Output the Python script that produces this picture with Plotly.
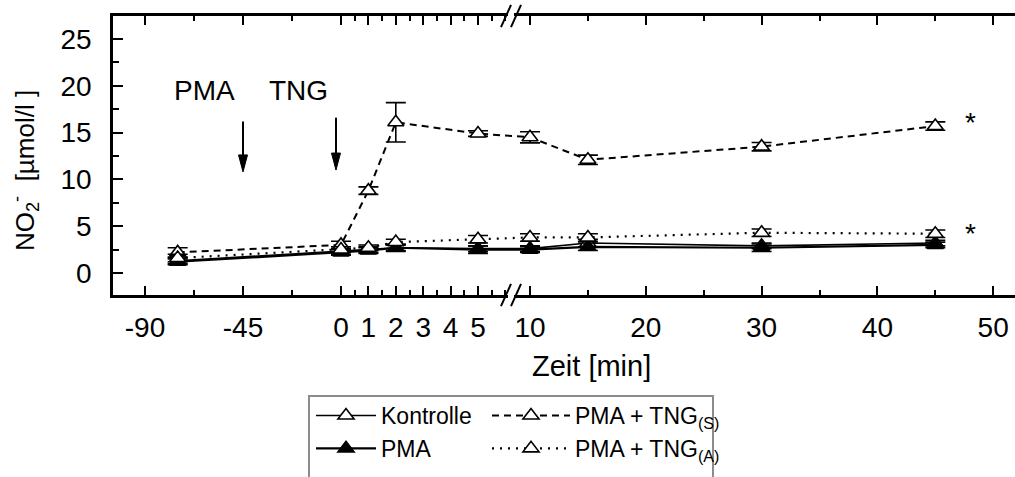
import plotly.graph_objects as go

# ---------------- data ----------------
times = [-75, 0, 1, 2, 5, 10, 15, 30, 45]

kontrolle = [1.3, 2.3, 2.5, 2.7, 2.6, 2.6, 3.2, 2.9, 3.2]
kontrolle_err = [0.3, 0.3, 0.3, 0.3, 0.3, 0.3, 0.4, 0.3, 0.3]

pma = [1.2, 2.2, 2.4, 2.7, 2.5, 2.5, 2.8, 2.7, 3.0]
pma_err = [0.3, 0.3, 0.3, 0.4, 0.4, 0.3, 0.4, 0.4, 0.3]

tng_s = [2.2, 3.0, 8.8, 16.1, 14.9, 14.5, 12.1, 13.5, 15.7]
tng_s_err = [0.5, 0.4, 0.4, 2.1, 0.3, 0.6, 0.5, 0.45, 0.45]

tng_a = [1.6, 2.5, 2.7, 3.3, 3.6, 3.8, 3.8, 4.3, 4.2]
tng_a_err = [0.4, 0.3, 0.3, 0.3, 0.4, 0.4, 0.4, 0.4, 0.4]

x_tick_times = [-90, -45, 0, 1, 2, 3, 4, 5, 10, 20, 30, 40, 50]
x_tick_labels = ["-90", "-45", "0", "1", "2", "3", "4", "5", "10", "20", "30", "40", "50"]
x_minor_times = [-67.5, -22.5, 0.5, 1.5, 2.5, 3.5, 4.5, 5.5, 6, 15, 25, 35, 45]
y_tick_vals = [0, 5, 10, 15, 20, 25]


# broken time scale: three linear segments
def to_axis(t):
    if t <= 0:
        return 341 + t * 196 / 90
    if t <= 7:
        return 341 + t * 27.4
    return 530 + (t - 10) * 11.58


FONT = "Arial, Liberation Sans, sans-serif"
PL, PR, PT, PB = 113, 1015, 16, 295
W, H = 1015, 477
Y0, Y1 = -2.35, 27.46


def px_x(p):
    return (p - PL) / (PR - PL)


def px_y(p):
    return (PB - p) / (PB - PT)


xs = [to_axis(t) for t in times]

fig = go.Figure()


def add_series(name, y, err, dash, width, filled, legend, rank):
    fig.add_trace(go.Scatter(
        x=xs, y=y, name=name, mode="lines+markers",
        line=dict(color="black", width=width, dash=dash),
        marker=dict(symbol="triangle-up", size=14,
                    color="black" if filled else "white",
                    line=dict(color="black", width=1.6)),
        error_y=dict(type="data", array=err, visible=True, color="black",
                     thickness=1.6, width=10),
        legend=legend, legendrank=rank,
    ))


add_series("Kontrolle", kontrolle, kontrolle_err, "solid", 1.6, False, "legend", 1)
add_series("PMA", pma, pma_err, "solid", 2.2, True, "legend", 2)
add_series("PMA + TNG<sub>(S)</sub>", tng_s, tng_s_err, "7px,5px", 2, False, "legend2", 1)
add_series("PMA + TNG<sub>(A)</sub>", tng_a, tng_a_err, "2px,6px", 2.2, False, "legend2", 2)

shapes = []


def arrow(xu, y_tail, y_tip):
    head_len = 17 / ((PB - PT) / (Y1 - Y0))
    shapes.append(dict(type="line", xref="x", yref="y", x0=xu, x1=xu,
                       y0=y_tail, y1=y_tip + head_len * 0.8,
                       line=dict(color="black", width=2)))
    shapes.append(dict(type="path", xref="x", yref="y",
                       path=f"M {xu-4.5},{y_tip+head_len} L {xu+4.5},{y_tip+head_len} L {xu},{y_tip} Z",
                       fillcolor="black", line=dict(color="black", width=1)))


arrow(to_axis(-45), 16.2, 10.8)
arrow(to_axis(-2.3), 16.6, 11.0)

# axis break marks "//" on top and bottom frame lines
brk = 511
for yc in (0, 1):
    shapes.append(dict(type="rect", xref="x", yref="paper", x0=brk - 3, x1=brk + 3,
                       y0=yc - 0.012, y1=yc + 0.012, fillcolor="white",
                       line=dict(width=0), layer="above"))
    for dx in (-5, 5):
        shapes.append(dict(type="line", xref="x", yref="paper",
                           x0=brk + dx - 5, x1=brk + dx + 5,
                           y0=yc - 0.04, y1=yc + 0.04,
                           line=dict(color="black", width=2), layer="above"))

# legend frame
shapes.append(dict(type="rect", xref="paper", yref="paper",
                   x0=px_x(309), x1=px_x(713), y0=px_y(482), y1=px_y(396),
                   line=dict(color="#8c8c8c", width=2), fillcolor="rgba(0,0,0,0)"))

annotations = [
    dict(text="PMA", x=to_axis(-62.5), y=19.5, xref="x", yref="y", showarrow=False,
         font=dict(size=28, family=FONT, color="black")),
    dict(text="TNG", x=to_axis(-19.5), y=19.5, xref="x", yref="y", showarrow=False,
         font=dict(size=28, family=FONT, color="black")),
    dict(text="*", x=to_axis(48), y=tng_s[-1], yshift=4, xref="x", yref="y", showarrow=False,
         font=dict(size=28, family=FONT, color="black")),
    dict(text="*", x=to_axis(48), y=tng_a[-1], yshift=0, xref="x", yref="y", showarrow=False,
         font=dict(size=28, family=FONT, color="black")),
    dict(text="NO<sub>2</sub><sup>-</sup>  [µmol/l ]", textangle=-90,
         x=px_x(25), y=px_y(171), xref="paper", yref="paper", showarrow=False,
         xanchor="center", yanchor="middle",
         font=dict(size=26, family=FONT, color="black")),
    dict(text="Zeit [min]", x=px_x(591), y=px_y(366), xref="paper", yref="paper",
         showarrow=False, xanchor="center", yanchor="middle",
         font=dict(size=29, family=FONT, color="black")),
]

fig.update_layout(
    width=W, height=H,
    margin=dict(l=PL, r=W - PR, t=PT, b=H - PB, autoexpand=False),
    paper_bgcolor="white", plot_bgcolor="white",
    font=dict(family=FONT, color="black"),
    showlegend=True,
    legend=dict(x=px_x(311), y=px_y(394), xanchor="left", yanchor="top",
                orientation="v", bgcolor="rgba(0,0,0,0)", borderwidth=0,
                itemwidth=60, font=dict(size=23, family=FONT, color="black"),
                tracegroupgap=0),
    legend2=dict(x=px_x(487), y=px_y(394), xanchor="left", yanchor="top",
                 orientation="v", bgcolor="rgba(0,0,0,0)", borderwidth=0,
                 itemwidth=78, font=dict(size=23, family=FONT, color="black"),
                 tracegroupgap=0),
    xaxis=dict(range=[PL, PR], showgrid=False, zeroline=False,
               showline=True, linecolor="black", linewidth=2.5, mirror="ticks",
               ticks="inside", ticklen=9, tickwidth=2, tickcolor="black",
               tickmode="array", tickvals=[to_axis(t) for t in x_tick_times],
               ticktext=x_tick_labels, ticklabelstandoff=6,
               tickfont=dict(size=28, family=FONT, color="black"),
               minor=dict(tickmode="array", tickvals=[to_axis(t) for t in x_minor_times],
                          ticks="inside", ticklen=5, tickwidth=2, tickcolor="black")),
    yaxis=dict(range=[Y0, Y1], showgrid=False, zeroline=False,
               showline=True, linecolor="black", linewidth=2.5, mirror=False,
               ticks="inside", ticklen=10, tickwidth=2, tickcolor="black",
               tickmode="array", tickvals=y_tick_vals,
               tickfont=dict(size=28, family=FONT, color="black"),
               ticklabelstandoff=13,
               minor=dict(dtick=2.5, tick0=0, ticks="inside", ticklen=6,
                          tickwidth=2, tickcolor="black")),
    yaxis2=dict(overlaying="y", side="right", matches="y", range=[Y0, Y1],
                showgrid=False, zeroline=False, showline=False,
                showticklabels=False, ticks="inside", ticklen=3, tickwidth=2,
                tickcolor="black", tickmode="array", tickvals=y_tick_vals),
    shapes=shapes,
    annotations=annotations,
)

fig.write_html("out.html", config={"displayModeBar": False},
               post_script="document.body.style.margin='0';document.body.style.overflow='hidden';")
